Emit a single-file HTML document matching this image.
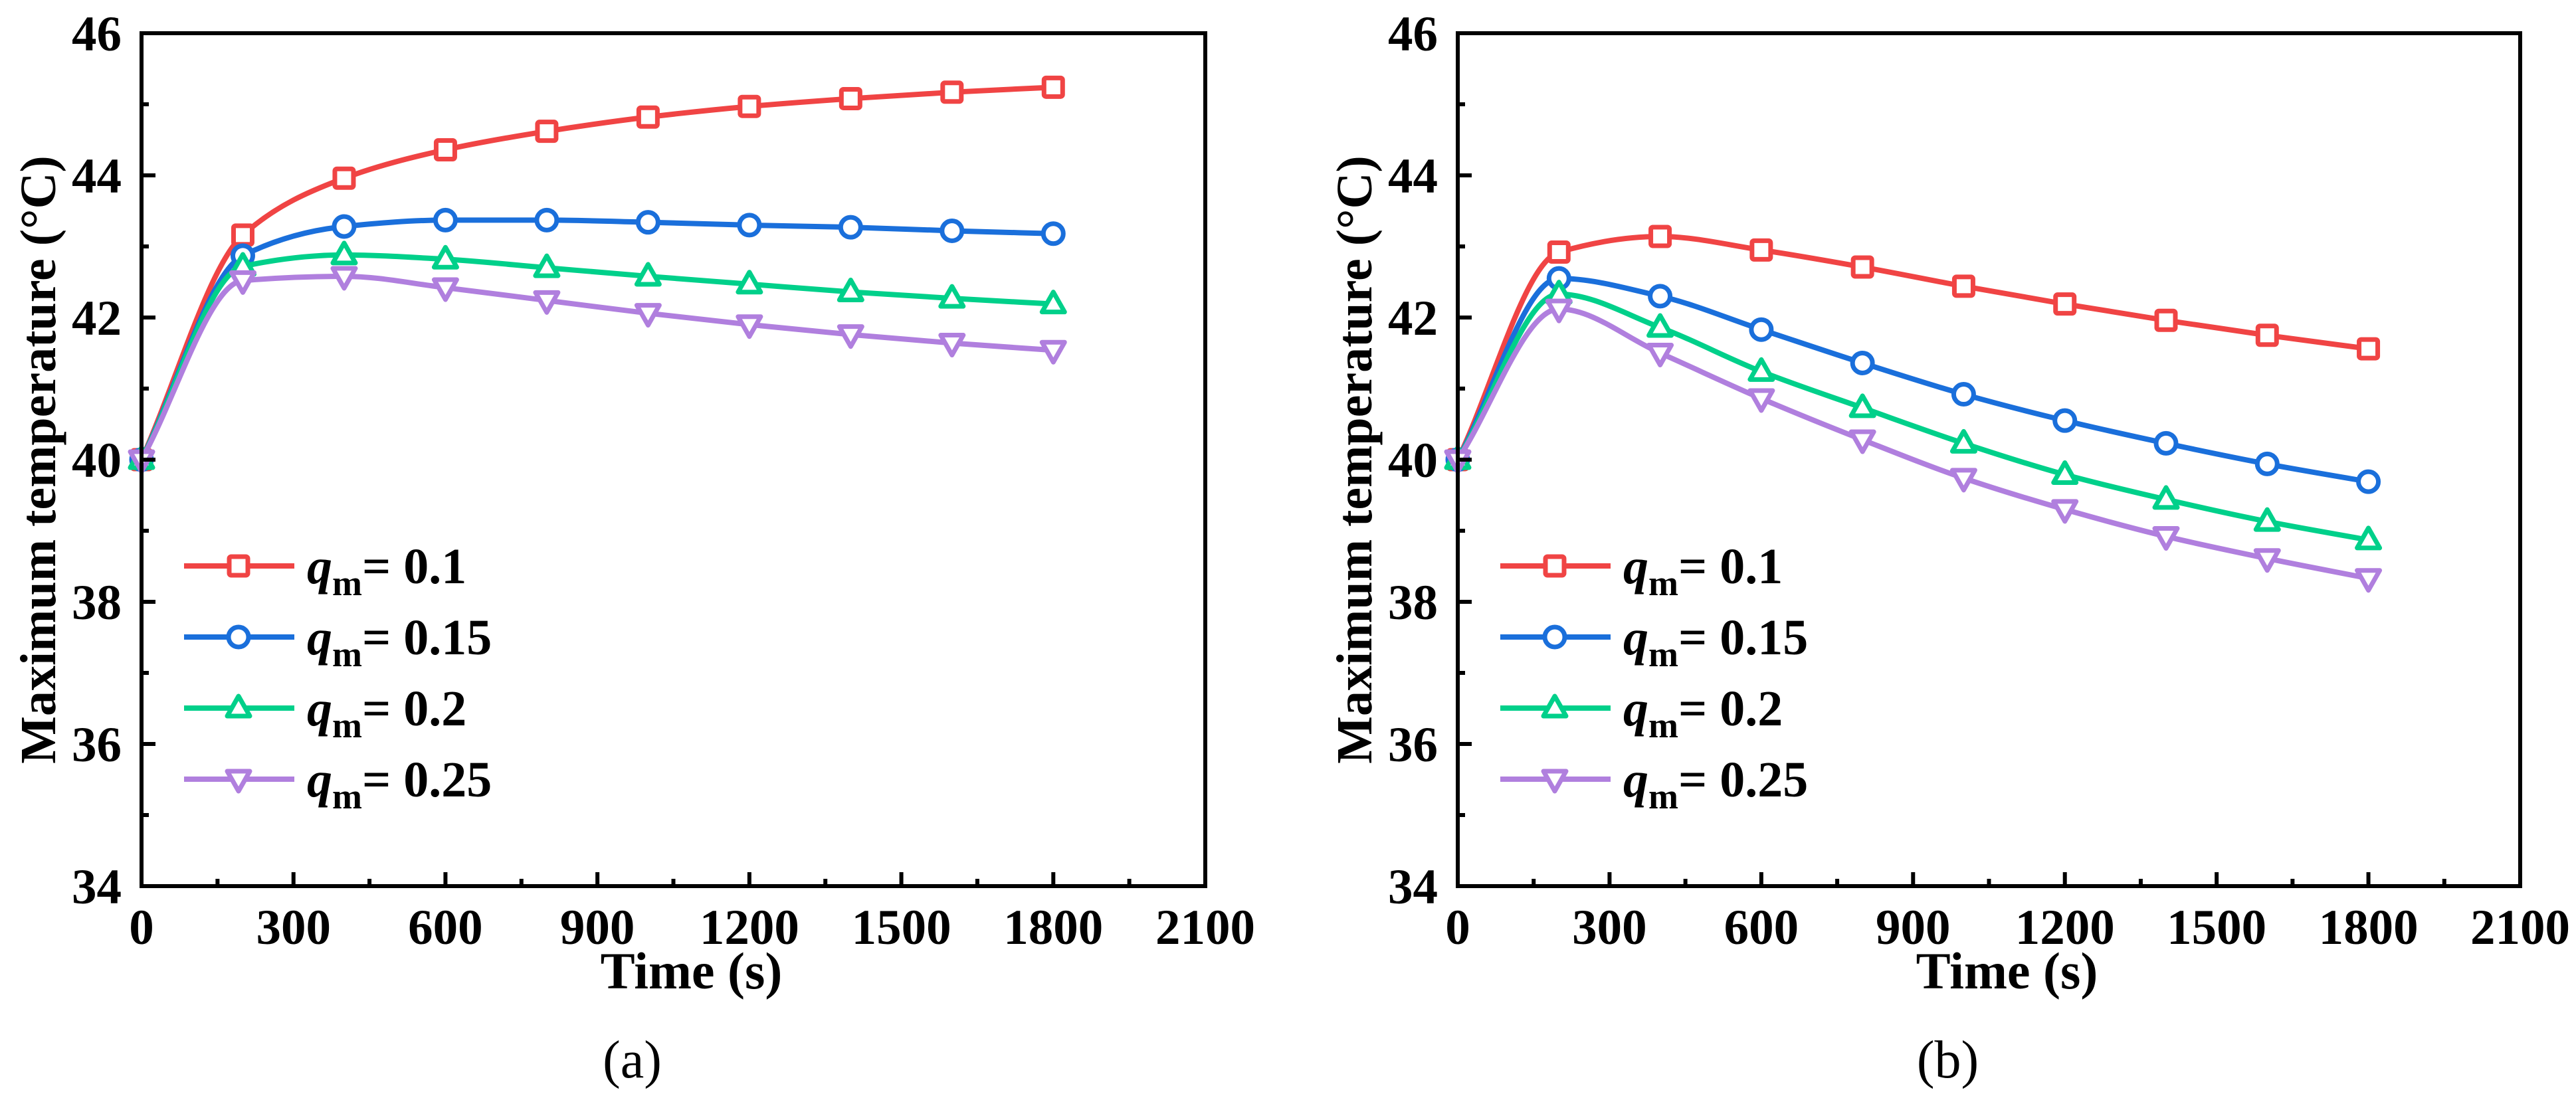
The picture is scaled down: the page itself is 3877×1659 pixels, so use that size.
<!DOCTYPE html>
<html><head><meta charset="utf-8"><style>
html,body{margin:0;padding:0;background:#fff}
svg{display:block}
text{font-family:"Liberation Serif","Times New Roman",serif}
</style></head><body>
<svg id="chart" width="3877" height="1659" viewBox="0 0 3877 1659" xmlns="http://www.w3.org/2000/svg"></svg>
<script>
const times = [0,200,400,600,800,1000,1200,1400,1600,1800];
const seriesLabels = ["0.1","0.15","0.2","0.25"];
const xTicks = [0,300,600,900,1200,1500,1800,2100];
const yTicks = [34,36,38,40,42,44,46];
const aRed = [40,43.16,43.96,44.36,44.62,44.82,44.97,45.08,45.17,45.24];
const aBlue = [40,42.87,43.28,43.37,43.37,43.34,43.30,43.27,43.22,43.18];
const aGreen = [40,42.72,42.88,42.82,42.70,42.58,42.47,42.36,42.27,42.19];
const aPurple = [40,42.52,42.58,42.42,42.24,42.06,41.90,41.76,41.64,41.54];
const bRed = [40,42.92,43.14,42.95,42.71,42.44,42.19,41.96,41.75,41.56];
const bBlue = [40,42.55,42.30,41.83,41.36,40.92,40.55,40.23,39.94,39.69];
const bGreen = [40,42.33,41.86,41.24,40.73,40.23,39.79,39.44,39.13,38.87];
const bPurple = [40,42.12,41.50,40.86,40.28,39.74,39.30,38.92,38.61,38.33];

const NS="http://www.w3.org/2000/svg";
const svg=document.getElementById('chart');
const colors=["#F04444","#1A6FDB","#00D08A","#B07FDE"];
const markerTypes=["square","circle","up","down"];
function el(tag,attrs,parent){const e=document.createElementNS(NS,tag);for(const k in attrs)e.setAttribute(k,attrs[k]);(parent||svg).appendChild(e);return e;}

function marker(g,type,cx,cy,color){
  let m;
  if(type==="square") m=el('rect',{x:cx-14,y:cy-14,width:28,height:28,rx:3},g);
  else if(type==="circle") m=el('circle',{cx:cx,cy:cy,r:15},g);
  else if(type==="up") m=el('path',{d:`M${cx},${cy-18} L${cx+17},${cy+12} L${cx-17},${cy+12} Z`,'stroke-linejoin':'round'},g);
  else m=el('path',{d:`M${cx},${cy+18} L${cx+17},${cy-12} L${cx-17},${cy-12} Z`,'stroke-linejoin':'round'},g);
  m.setAttribute('fill','#fff');m.setAttribute('stroke',color);m.setAttribute('stroke-width','7');
  return m;
}

// monotone cubic (Fritsch-Carlson)
function smoothPath(pts){
  const n=pts.length, dx=[], dy=[], s=[], m=[];
  for(let i=0;i<n-1;i++){dx[i]=pts[i+1][0]-pts[i][0];dy[i]=pts[i+1][1]-pts[i][1];s[i]=dy[i]/dx[i];}
  m[0]=s[0];m[n-1]=s[n-2];
  for(let i=1;i<n-1;i++){
    if(s[i-1]*s[i]<=0) m[i]=0;
    else {const w1=2*dx[i]+dx[i-1],w2=dx[i]+2*dx[i-1];m[i]=(w1+w2)/(w1/s[i-1]+w2/s[i]);}
  }
  let d=`M${pts[0][0]},${pts[0][1]}`;
  for(let i=0;i<n-1;i++){
    const h=dx[i]/3;
    d+=` C${pts[i][0]+h},${pts[i][1]+m[i]*h} ${pts[i+1][0]-h},${pts[i+1][1]-m[i+1]*h} ${pts[i+1][0]},${pts[i+1][1]}`;
  }
  return d;
}

function panel(name,x0,x1,series,letter){
  const y0=1334,y1=50;
  const g=el('g',{});
  
  
  const sx=v=>x0+(v-0)/(2100)*(x1-x0);
  const sy=v=>y0-(v-34)/(12)*(y0-y1);
  series.forEach((vals,si)=>{
    const pts=times.map((t,i)=>[sx(t),sy(vals[i])]);
    const p=el('path',{d:smoothPath(pts),fill:'none',stroke:colors[si],'stroke-width':8,'stroke-linejoin':'round'},g);
    
    
    times.forEach((t,i)=>{
      const m=marker(g,markerTypes[si],sx(t),sy(vals[i]),colors[si]);
      
      
    });
  });
  const fr=el('rect',{x:x0,y:y1,width:x1-x0,height:y0-y1,fill:'none',stroke:'#000','stroke-width':6},g);
  
  
  xTicks.forEach((t,i)=>{
    const x=sx(t);
    el('line',{x1:x,x2:x,y1:y0,y2:y0-21,stroke:'#000','stroke-width':6},g);
    if(i<xTicks.length-1){const xm=sx(t+150);el('line',{x1:xm,x2:xm,y1:y0,y2:y0-11,stroke:'#000','stroke-width':6},g);}
    const tx=el('text',{x:x,y:1421,'font-size':75,'font-weight':'bold','text-anchor':'middle'},g);
    tx.textContent=t;
    
    
  });
  yTicks.forEach((v,i)=>{
    const y=sy(v);
    el('line',{x1:x0,x2:x0+21,y1:y,y2:y,stroke:'#000','stroke-width':6},g);
    if(i<yTicks.length-1){const ym=sy(v+1);el('line',{x1:x0,x2:x0+11,y1:ym,y2:ym,stroke:'#000','stroke-width':6},g);}
    const tx=el('text',{x:x0-30,y:y+26,'font-size':75,'font-weight':'bold','text-anchor':'end'},g);
    tx.textContent=v;
    
    
  });
  const xt=el('text',{x:(x0+x1)/2+27,y:1488,'font-size':78,'font-weight':'bold','text-anchor':'middle'},g);
  xt.textContent='Time (s)';
  
  
  const yx=x0-157+27, yy=692;
  const yt=el('text',{x:yx,y:yy,'font-size':76,'font-weight':'bold','text-anchor':'middle',transform:`rotate(-90 ${yx} ${yy})`},g);
  yt.textContent='Maximum temperature (°C)';
  
  
  const pl=el('text',{x:(x0+x1)/2-62,y:1622,'font-size':80,'text-anchor':'middle'},g);
  pl.textContent='('+letter+')';
  
  
  seriesLabels.forEach((lab,i)=>{
    const ly=852+i*107, lx=x0+64;
    const lg=el('g',{},g);
    
    
    el('line',{x1:lx,x2:lx+166,y1:ly,y2:ly,stroke:colors[i],'stroke-width':8},lg);
    marker(lg,markerTypes[i],lx+82,ly,colors[i]);
    const t=el('text',{x:lx+185,y:ly+26,'font-size':76,'font-weight':'bold'},lg);
    const q=el('tspan',{'font-style':'italic'},t);q.textContent='q';
    const m=el('tspan',{'font-size':54,dy:18},t);m.textContent='m';
    const r=el('tspan',{dy:-18},t);r.textContent='= '+lab;
  });
}
panel('panel-a-chart',213,1814,[aRed,aBlue,aGreen,aPurple],'a');
panel('panel-b-chart',2194,3793,[bRed,bBlue,bGreen,bPurple],'b');
</script>
</body></html>
